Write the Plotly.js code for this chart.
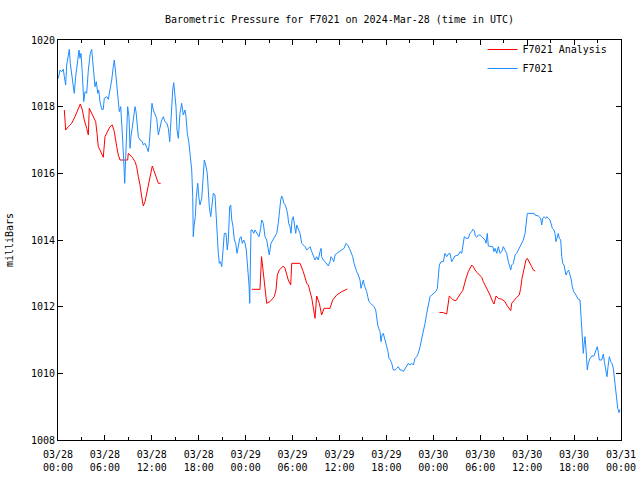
<!DOCTYPE html>
<html>
<head>
<meta charset="utf-8">
<script src="https://cdn.plot.ly/plotly-3.0.1.min.js"></script>
<style>html,body{margin:0;padding:0;background:#fff;}#chart{width:640px;height:480px;}</style>
</head>
<body>
<div id="chart"></div>
<script>
// Hours after 2024-03-28 00:00 UTC, and pressure in millibars
const stationHours = [0.04,0.26,0.47,0.68,0.81,0.98,1.11,1.32,1.45,1.57,1.75,1.96,2.08,2.26,2.47,2.69,2.81,2.94,3.11,3.29,3.45,3.67,3.88,4.13,4.31,4.44,4.60,4.73,4.90,5.08,5.21,5.37,5.59,5.79,5.92,6.23,6.43,6.65,6.87,7.07,7.20,7.38,7.51,7.71,7.84,8.02,8.15,8.27,8.44,8.53,8.66,8.82,8.91,9.08,9.21,9.34,9.50,9.68,9.85,9.98,10.10,10.27,10.49,10.78,10.91,11.13,11.34,11.55,11.68,11.86,12.02,12.19,12.41,12.62,12.83,13.01,13.26,13.47,13.68,13.94,14.11,14.29,14.41,14.54,14.67,14.80,14.96,15.09,15.22,15.39,15.60,15.82,16.02,16.24,16.37,16.54,16.75,16.92,17.10,17.23,17.30,17.39,17.56,17.69,17.87,18.03,18.16,18.38,18.58,18.71,18.89,19.09,19.22,19.35,19.53,19.66,19.86,20.08,20.21,20.37,20.50,20.63,20.76,20.94,21.10,21.27,21.49,21.65,21.78,21.96,22.09,22.22,22.38,22.55,22.73,22.89,23.06,23.24,23.40,23.57,23.75,23.92,24.08,24.26,24.43,24.52,24.59,24.68,24.85,25.03,25.19,25.45,25.71,25.92,26.05,26.26,26.47,26.69,26.90,27.02,27.24,27.46,27.66,27.97,28.17,28.30,28.48,28.61,28.74,28.90,29.07,29.25,29.38,29.50,29.67,29.80,29.93,30.09,30.22,30.40,30.53,30.73,30.95,31.17,31.37,31.59,31.81,32.01,32.23,32.45,32.65,32.87,33.08,33.29,33.51,33.64,33.72,33.93,34.15,34.36,34.57,34.79,34.91,35.08,35.26,35.43,35.64,35.94,36.28,36.58,36.83,37.05,37.26,37.47,37.69,37.86,38.02,38.20,38.41,38.50,38.62,38.75,38.92,39.05,39.17,39.35,39.48,39.61,39.77,39.99,40.20,40.41,40.63,40.76,40.89,41.01,41.18,41.31,41.44,41.60,41.73,41.91,42.04,42.20,42.33,42.50,42.68,42.88,43.10,43.32,43.52,43.74,43.96,44.16,44.38,44.60,44.80,45.02,45.24,45.44,45.66,45.87,46.08,46.30,46.51,46.72,46.94,47.15,47.36,47.58,47.79,48.00,48.31,48.51,48.64,48.77,48.98,49.28,49.49,49.71,49.92,50.13,50.35,50.55,50.77,51.19,51.41,51.63,51.83,51.96,52.18,52.47,52.69,52.91,53.04,53.24,53.37,53.55,53.75,53.97,54.19,54.39,54.61,54.74,54.90,55.03,55.34,55.59,55.76,55.89,56.11,56.31,56.53,56.75,56.95,57.17,57.38,57.59,57.81,57.90,58.02,58.23,58.45,58.66,58.87,59.09,59.30,59.51,59.73,59.85,59.94,60.02,60.37,60.88,61.00,61.43,61.73,61.86,61.99,62.16,62.37,62.50,62.71,62.92,63.05,63.22,63.43,63.56,63.69,63.86,63.98,64.11,64.29,64.42,64.55,64.71,64.84,64.97,65.14,65.31,65.48,65.65,65.77,65.95,66.12,66.34,66.54,66.76,66.85,66.98,67.10,67.18,67.27,67.40,67.53,67.62,67.69,67.82,68.04,68.26,68.55,68.81,68.97,69.10,69.23,69.53,69.74,69.87,70.08,70.21,70.34,70.51,70.68,70.85,71.02,71.20,71.33,71.45,71.58,71.75,71.88];
const stationPressure = [1018.85,1019.10,1019.05,1019.12,1018.90,1018.65,1019.25,1019.60,1019.72,1019.30,1019.00,1018.60,1018.40,1018.90,1019.30,1019.70,1019.45,1019.60,1019.00,1018.15,1018.45,1018.40,1019.10,1019.60,1019.72,1019.40,1019.00,1018.60,1018.75,1018.40,1018.50,1018.15,1017.92,1017.92,1018.25,1018.30,1018.22,1018.50,1018.80,1019.20,1019.40,1019.00,1018.60,1018.00,1017.85,1018.00,1017.60,1017.00,1016.20,1015.70,1016.50,1017.30,1018.00,1017.70,1016.75,1017.10,1017.35,1017.70,1018.00,1017.85,1017.50,1017.10,1017.00,1016.95,1016.85,1016.90,1016.78,1016.65,1016.90,1017.75,1018.10,1017.90,1017.75,1017.65,1017.15,1017.35,1017.60,1017.70,1017.55,1017.50,1017.35,1016.95,1017.55,1018.10,1018.50,1018.72,1018.30,1018.00,1017.30,1017.05,1017.80,1018.10,1017.75,1017.90,1017.70,1017.20,1016.90,1016.55,1016.10,1015.30,1014.10,1014.40,1014.70,1015.30,1015.70,1015.25,1015.05,1015.25,1016.10,1016.40,1016.25,1016.00,1015.50,1015.00,1014.70,1015.00,1015.40,1015.35,1014.70,1014.10,1013.60,1013.30,1013.35,1013.20,1013.60,1014.20,1014.20,1013.70,1014.00,1015.00,1015.05,1014.60,1014.40,1014.00,1013.90,1013.60,1013.80,1014.05,1014.10,1013.90,1014.00,1013.90,1013.70,1013.20,1012.65,1012.10,1013.20,1014.30,1014.30,1014.20,1014.30,1014.20,1014.10,1014.35,1014.60,1014.50,1014.10,1014.00,1013.70,1013.55,1013.90,1014.00,1014.05,1014.20,1014.50,1014.90,1015.20,1015.32,1015.25,1015.10,1015.05,1014.90,1014.75,1014.50,1014.40,1014.20,1014.60,1014.70,1014.50,1014.20,1014.45,1014.35,1014.20,1013.90,1013.85,1013.80,1013.70,1013.75,1013.80,1013.65,1013.50,1013.40,1013.50,1013.40,1013.65,1013.75,1013.50,1013.40,1013.35,1013.30,1013.22,1013.35,1013.50,1013.45,1013.35,1013.55,1013.60,1013.65,1013.70,1013.75,1013.90,1013.85,1013.75,1013.60,1013.50,1013.30,1013.15,1013.05,1012.95,1012.90,1012.80,1012.55,1012.75,1012.80,1012.65,1012.55,1012.45,1012.30,1012.15,1012.10,1012.05,1012.00,1011.90,1011.60,1011.45,1011.35,1011.25,1010.95,1011.15,1011.20,1011.05,1010.90,1010.80,1010.65,1010.45,1010.40,1010.30,1010.10,1010.10,1010.15,1010.20,1010.10,1010.10,1010.05,1010.15,1010.25,1010.30,1010.25,1010.30,1010.25,1010.45,1010.50,1010.60,1010.80,1011.00,1011.25,1011.50,1011.80,1012.00,1012.30,1012.35,1012.40,1012.45,1012.55,1012.90,1013.25,1013.35,1013.35,1013.60,1013.50,1013.58,1013.60,1013.35,1013.45,1013.52,1013.55,1013.65,1013.60,1013.95,1014.10,1014.05,1014.05,1014.20,1014.25,1014.32,1014.28,1014.12,1014.08,1014.15,1014.15,1014.10,1014.05,1014.00,1013.90,1014.20,1013.82,1013.82,1013.80,1013.65,1013.75,1013.60,1013.80,1013.60,1013.65,1013.80,1013.70,1013.60,1013.35,1013.20,1013.10,1013.25,1013.30,1013.55,1013.60,1013.70,1013.80,1013.90,1014.00,1014.20,1014.40,1014.65,1014.80,1014.80,1014.80,1014.75,1014.72,1014.65,1014.45,1014.65,1014.70,1014.65,1014.70,1014.65,1014.60,1014.50,1014.35,1014.30,1014.20,1013.95,1014.10,1014.20,1014.05,1014.00,1013.50,1013.30,1013.25,1013.10,1012.95,1013.05,1013.10,1012.95,1012.80,1012.60,1012.45,1012.40,1012.30,1012.22,1012.20,1011.90,1011.40,1010.90,1010.60,1010.85,1011.10,1010.70,1010.40,1010.10,1010.30,1010.45,1010.52,1010.52,1010.70,1010.80,1010.62,1010.40,1010.40,1010.58,1010.35,1010.10,1009.90,1010.20,1010.50,1010.35,1010.30,1010.15,1009.80,1009.50,1009.20,1008.95,1008.82,1008.92];

// Analysis series: null entries mark the gaps between runs
const analysisHours = [0.81,0.98,1.32,1.75,2.17,2.60,2.85,3.11,3.36,3.67,3.88,4.00,4.22,4.51,4.82,4.99,5.15,5.37,5.59,5.79,6.01,6.36,6.65,6.94,7.20,7.51,7.71,7.93,8.57,8.91,8.99,9.21,9.50,9.85,10.06,10.27,10.49,10.70,10.91,11.13,11.34,11.55,11.77,12.06,12.32,12.62,12.83,13.13,
  18.5,
  24.77,25.83,26.03,26.22,26.47,26.69,27.11,27.66,27.88,28.05,28.30,28.81,29.03,29.45,29.76,29.89,30.95,31.37,31.81,32.01,32.45,32.65,32.87,33.08,33.42,33.72,34.02,34.79,35.13,35.64,36.28,37.00,
  42.5,
  48.77,49.28,49.71,49.92,50.04,50.35,50.55,50.90,51.19,51.50,51.76,51.92,52.18,52.47,52.69,52.91,53.11,53.33,53.62,53.88,54.19,54.39,54.83,55.25,55.59,55.76,56.02,56.31,56.75,57.17,57.38,57.72,57.90,58.02,58.32,58.66,58.99,59.17,59.34,59.59,59.85,60.02,60.28,60.58,60.79,61.04];
const analysisPressure = [1017.90,1017.30,1017.40,1017.50,1017.70,1017.95,1018.08,1017.90,1017.60,1017.35,1017.15,1017.95,1017.85,1017.70,1017.55,1017.20,1016.80,1016.70,1016.60,1016.48,1017.10,1017.25,1017.40,1017.45,1017.25,1016.80,1016.55,1016.40,1016.40,1016.40,1016.60,1016.55,1016.48,1016.35,1016.20,1015.90,1015.65,1015.30,1015.02,1015.15,1015.40,1015.65,1015.90,1016.22,1016.05,1015.85,1015.70,1015.70,
  null,
  1012.52,1012.52,1013.50,1013.05,1012.60,1012.10,1012.15,1012.30,1012.50,1012.95,1013.10,1013.22,1013.15,1012.80,1012.65,1013.30,1013.30,1013.05,1012.70,1012.65,1012.26,1011.95,1011.65,1012.32,1012.10,1011.75,1011.95,1011.95,1012.20,1012.35,1012.45,1012.53,
  null,
  1011.83,1011.82,1011.78,1012.10,1012.32,1012.25,1012.20,1012.18,1012.30,1012.40,1012.48,1012.65,1012.85,1013.05,1013.15,1013.25,1013.20,1013.10,1013.02,1012.95,1012.88,1012.75,1012.55,1012.35,1012.15,1012.08,1012.32,1012.25,1012.22,1012.15,1012.05,1011.95,1011.88,1012.10,1012.20,1012.28,1012.35,1012.55,1012.85,1013.15,1013.40,1013.45,1013.35,1013.20,1013.10,1013.07];

const tickHours = [0,6,12,18,24,30,36,42,48,54,60,66,72];
const tickDays  = ['03/28','03/28','03/28','03/28','03/29','03/29','03/29','03/29','03/30','03/30','03/30','03/30','03/31'];
const tickTimes = ['00:00','06:00','12:00','18:00','00:00','06:00','12:00','18:00','00:00','06:00','12:00','18:00','00:00'];

const seriesNames = ['F7021 Analysis','F7021'];
const seriesColors = ['#ff0000','#1e8cff'];

const BASE = Date.UTC(2024, 2, 28, 0, 0, 0);
function pad(n){ return (n < 10 ? '0' : '') + n; }
function hourToDate(h){
  const d = new Date(BASE + Math.round(h * 3600000));
  return d.getUTCFullYear() + '-' + pad(d.getUTCMonth() + 1) + '-' + pad(d.getUTCDate()) + ' ' +
         pad(d.getUTCHours()) + ':' + pad(d.getUTCMinutes()) + ':' + pad(d.getUTCSeconds());
}

const FONT = 'DejaVu Sans Mono, Liberation Mono, monospace';

const traces = [
  {
    x: analysisHours.map(hourToDate), y: analysisPressure,
    type: 'scatter', mode: 'lines', name: seriesNames[0],
    line: {color: seriesColors[0], width: 1}, connectgaps: false
  },
  {
    x: stationHours.map(hourToDate), y: stationPressure,
    type: 'scatter', mode: 'lines', name: seriesNames[1],
    line: {color: seriesColors[1], width: 1}
  }
];

const layout = {
  width: 640, height: 480,
  margin: {l: 58, r: 19, t: 40, b: 40, pad: 0},
  paper_bgcolor: '#ffffff', plot_bgcolor: '#ffffff',
  font: {family: FONT, size: 10, color: '#000'},
  title: {
    text: 'Barometric Pressure for F7021 on 2024-Mar-28 (time in UTC)',
    font: {family: FONT, size: 10, color: '#000'},
    x: 0.5305, xref: 'container', xanchor: 'center',
    y: 1 - 19/480, yref: 'container', yanchor: 'middle'
  },
  xaxis: {
    type: 'date',
    range: [hourToDate(tickHours[0]), hourToDate(tickHours[tickHours.length-1])],
    tickmode: 'array',
    tickvals: tickHours.map(hourToDate),
    ticktext: tickHours.map((h, i) => tickDays[i] + '<br>' + tickTimes[i]),
    ticks: 'inside', ticklen: 5, tickcolor: '#000', tickwidth: 1,
    ticklabelstandoff: 5,
    minor: {dtick: 3 * 3600000, tick0: hourToDate(0), ticks: 'inside', ticklen: 3, tickcolor: '#000', showgrid: false},
    showline: true, linecolor: '#000', linewidth: 1, mirror: 'ticks',
    showgrid: false, zeroline: false, fixedrange: true,
    tickfont: {family: FONT, size: 10, color: '#000'}
  },
  yaxis: {
    range: [1008, 1020], dtick: 2, tick0: 1008,
    ticks: 'inside', ticklen: 5, tickcolor: '#000', tickwidth: 1,
    showline: true, linecolor: '#000', linewidth: 1, mirror: 'ticks',
    showgrid: false, zeroline: false, fixedrange: true,
    tickfont: {family: FONT, size: 10, color: '#000'},
    title: {text: 'milliBars', font: {family: FONT, size: 10, color: '#000'}, standoff: 15}
  },
  showlegend: true,
  legend: {
    x: 0.985, y: 1.0125, xanchor: 'right', yanchor: 'top',
    bgcolor: 'rgba(0,0,0,0)', borderwidth: 0,
    font: {family: FONT, size: 10, color: '#000'},
    tracegroupgap: 0, itemwidth: 30
  }
};

Plotly.newPlot('chart', traces, layout, {displayModeBar: false, staticPlot: true});
</script>
</body>
</html>
